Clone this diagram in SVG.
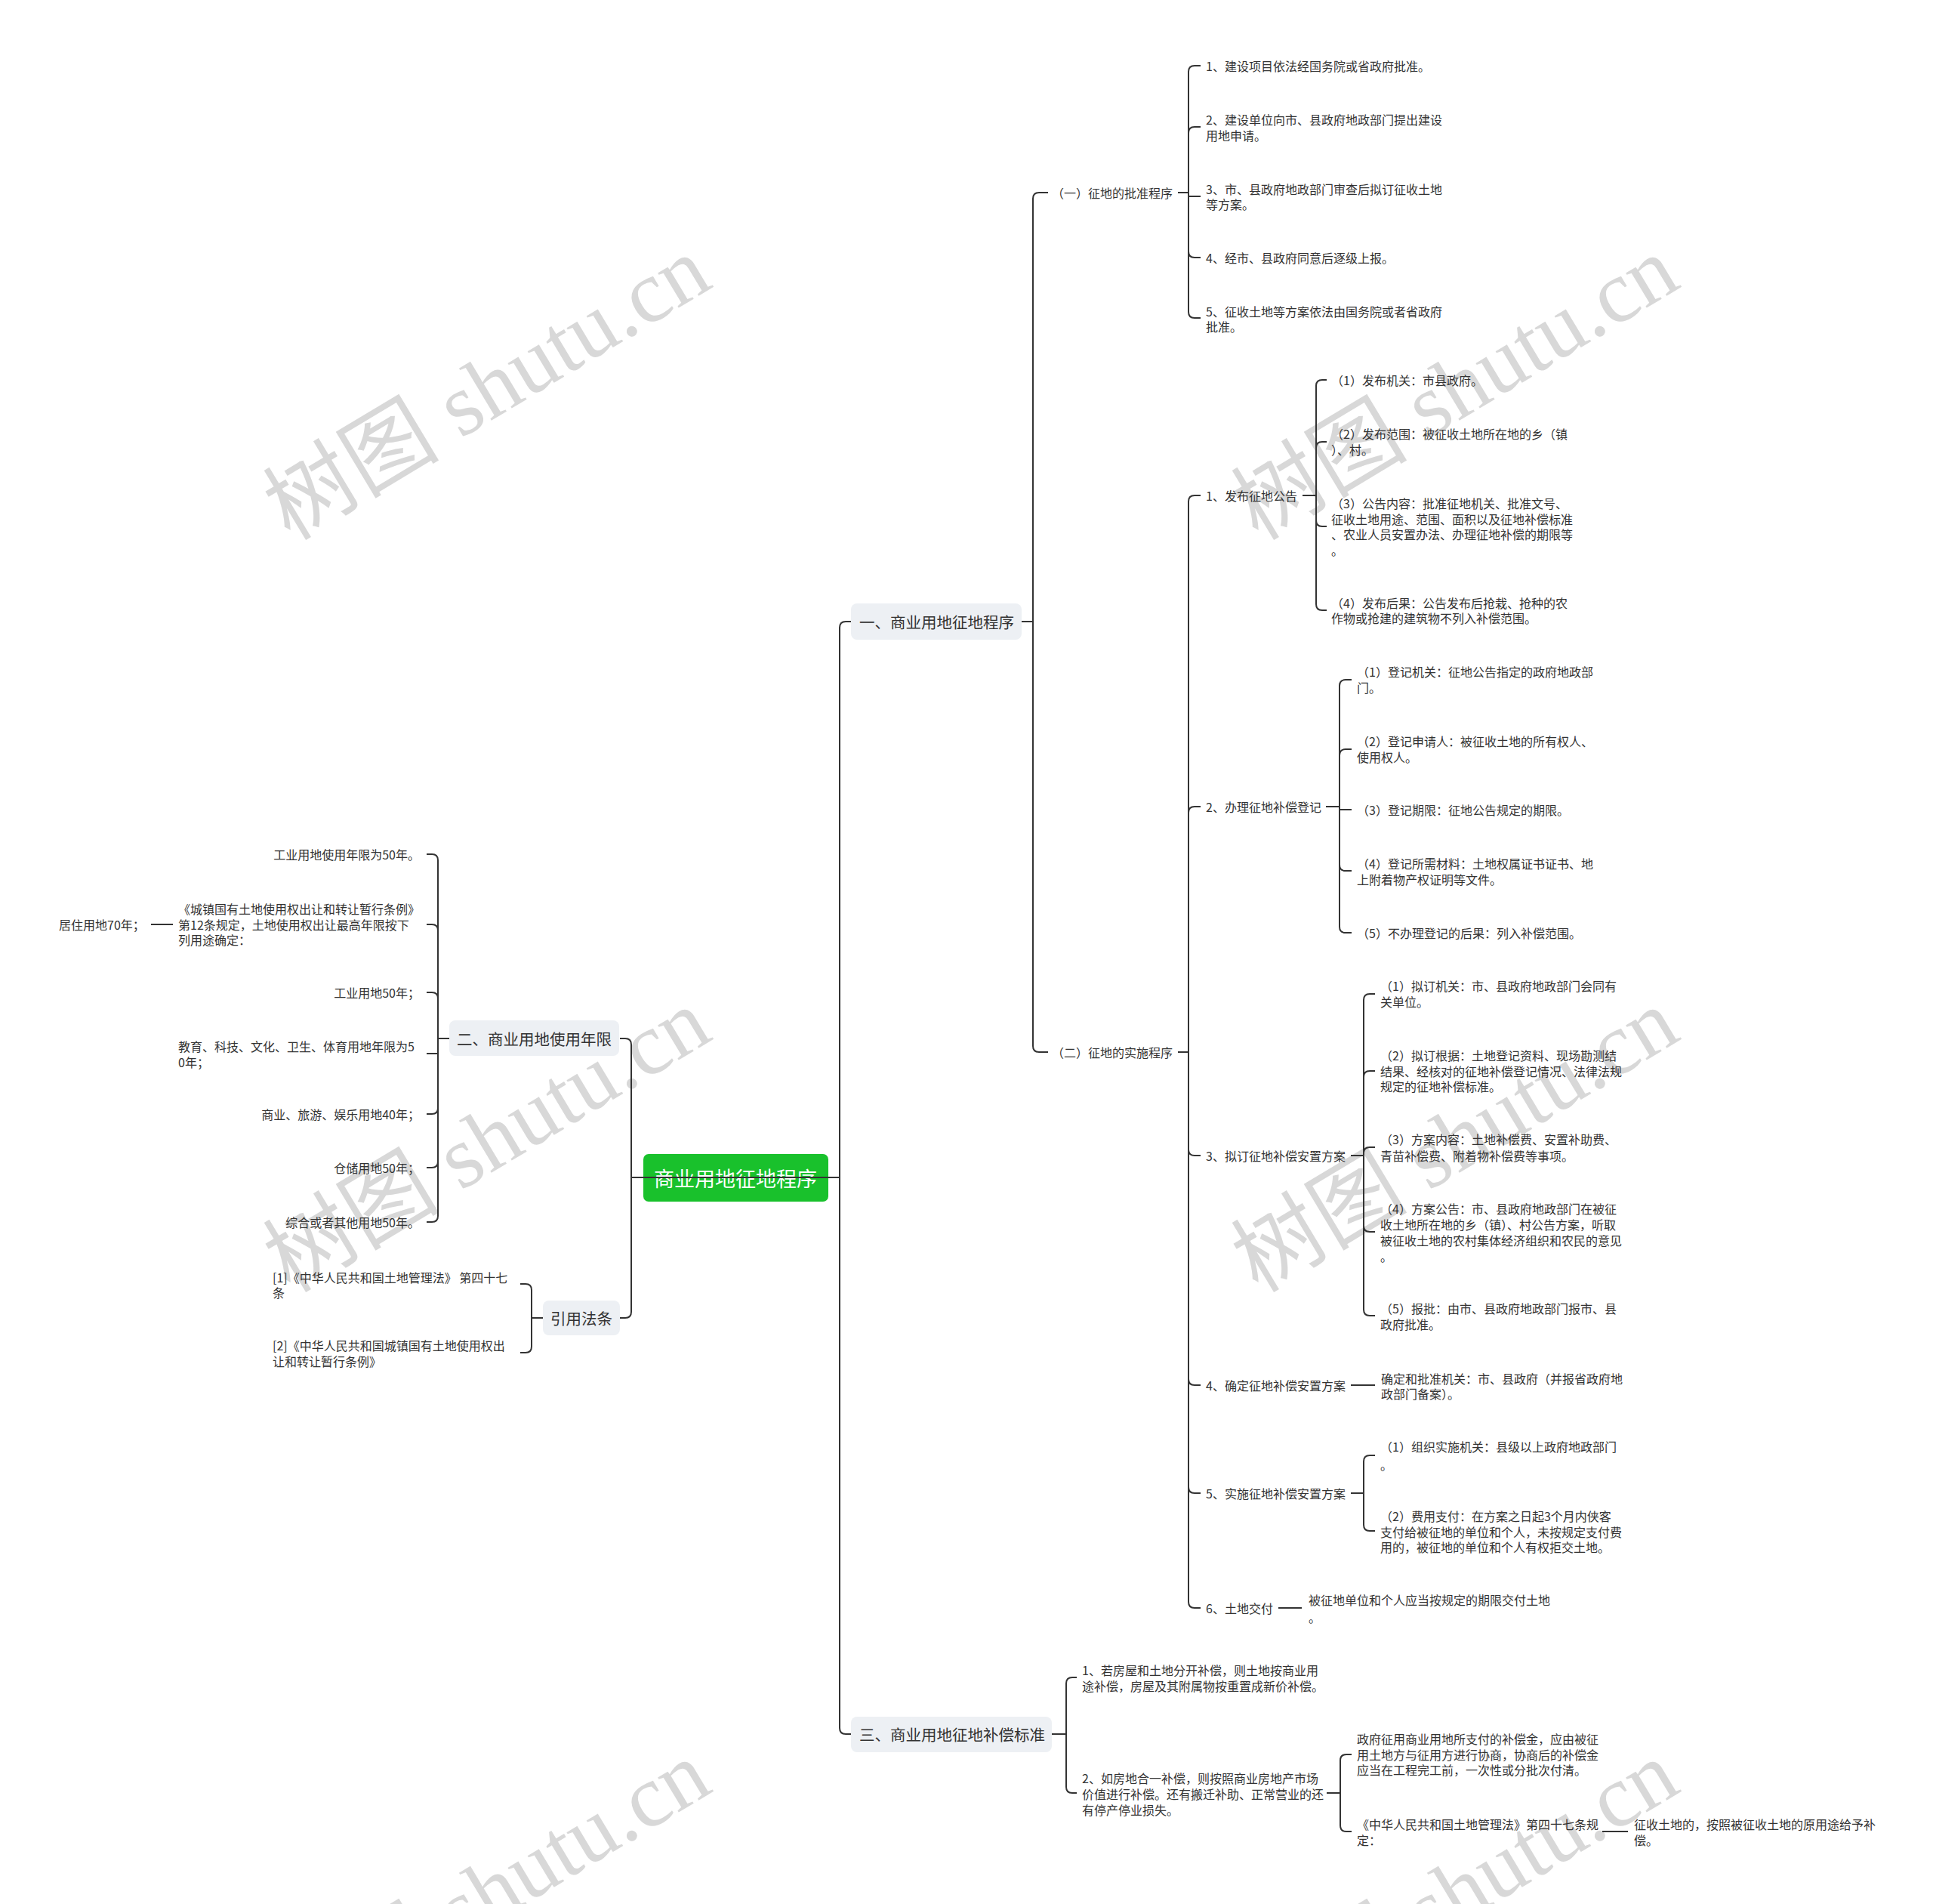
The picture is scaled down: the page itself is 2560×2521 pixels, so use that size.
<svg xmlns="http://www.w3.org/2000/svg" width="2560" height="2521" viewBox="0 0 2560 2521">
<style>
.t{font-family:"Noto Sans CJK SC","Noto Sans",sans-serif;font-size:16px;fill:#333;dominant-baseline:central}
.r{text-anchor:end}
.l1{font-size:20.5px}
.rt{font-size:27px;fill:#fff;text-anchor:middle}
.box{fill:#edf0f4}
.c{fill:none;stroke:#333;stroke-width:2}
.wm{font-family:"Liberation Serif","Noto Sans CJK SC",serif;font-size:117px;fill:#d8d8d8;text-anchor:middle;dominant-baseline:central}
</style>
<rect width="2560" height="2521" fill="#fff"/>
<g id="watermarks">
<text class="wm" transform="translate(645 514) rotate(-31)">树图 shutu.cn</text>
<text class="wm" transform="translate(1927 514) rotate(-31)">树图 shutu.cn</text>
<text class="wm" transform="translate(645 1510) rotate(-31)">树图 shutu.cn</text>
<text class="wm" transform="translate(1927 1510) rotate(-31)">树图 shutu.cn</text>
<text class="wm" transform="translate(645 2506) rotate(-31)">树图 shutu.cn</text>
<text class="wm" transform="translate(1927 2506) rotate(-31)">树图 shutu.cn</text>
</g>
<g id="nodes">
<g id="root"><rect x="852" y="1528" width="245" height="63" rx="7" fill="#19c12c"/><text class="t rt" x="974" y="1559">商业用地征地程序</text></g>
<g id="n-yi"><rect class="box" x="1127" y="799" width="226" height="48" rx="8"/><text class="t l1" x="1138" y="823">一、商业用地征地程序</text></g>
<g id="n-san"><rect class="box" x="1127" y="2273" width="266" height="47" rx="8"/><text class="t l1" x="1138" y="2296">三、商业用地征地补偿标准</text></g>
<g id="n-er"><rect class="box" x="595" y="1351" width="225" height="47" rx="8"/><text class="t l1" x="605" y="1375">二、商业用地使用年限</text></g>
<g id="n-fatiao"><rect class="box" x="719" y="1722" width="102" height="46" rx="8"/><text class="t l1" x="729" y="1745">引用法条</text></g>

<g id="n-a1"><text class="t" x="1393" y="255">（一）征地的批准程序</text></g>
<g id="n-a2"><text class="t" x="1393" y="1393">（二）征地的实施程序</text></g>

<g id="n-c1"><text class="t" x="1597" y="87">1、建设项目依法经国务院或省政府批准。</text></g>
<g id="n-c2"><text class="t" x="1597" y="158">2、建设单位向市、县政府地政部门提出建设<tspan x="1597" y="179">用地申请。</tspan></text></g>
<g id="n-c3"><text class="t" x="1597" y="250">3、市、县政府地政部门审查后拟订征收土地<tspan x="1597" y="270">等方案。</tspan></text></g>
<g id="n-c4"><text class="t" x="1597" y="341">4、经市、县政府同意后逐级上报。</text></g>
<g id="n-c5"><text class="t" x="1597" y="412">5、征收土地等方案依法由国务院或者省政府<tspan x="1597" y="432">批准。</tspan></text></g>

<g id="n-d1"><text class="t" x="1597" y="656">1、发布征地公告</text></g>
<g id="n-d2"><text class="t" x="1597" y="1068">2、办理征地补偿登记</text></g>
<g id="n-d3"><text class="t" x="1597" y="1530">3、拟订征地补偿安置方案</text></g>
<g id="n-d4"><text class="t" x="1597" y="1834">4、确定征地补偿安置方案</text></g>
<g id="n-d5"><text class="t" x="1597" y="1977">5、实施征地补偿安置方案</text></g>
<g id="n-d6"><text class="t" x="1597" y="2129">6、土地交付</text></g>

<g id="n-e1"><text class="t" x="1763" y="503">（1）发布机关：市县政府。</text></g>
<g id="n-e2"><text class="t" x="1763" y="574">（2）发布范围：被征收土地所在地的乡（镇<tspan x="1763" y="595">）、村。</tspan></text></g>
<g id="n-e3"><text class="t" x="1763" y="666">（3）公告内容：批准征地机关、批准文号、<tspan x="1763" y="687">征收土地用途、范围、面积以及征地补偿标准</tspan><tspan x="1763" y="707">、农业人员安置办法、办理征地补偿的期限等</tspan><tspan x="1763" y="728">。</tspan></text></g>
<g id="n-e4"><text class="t" x="1763" y="798">（4）发布后果：公告发布后抢栽、抢种的农<tspan x="1763" y="818">作物或抢建的建筑物不列入补偿范围。</tspan></text></g>

<g id="n-f1"><text class="t" x="1797" y="889">（1）登记机关：征地公告指定的政府地政部<tspan x="1797" y="910">门。</tspan></text></g>
<g id="n-f2"><text class="t" x="1797" y="981">（2）登记申请人：被征收土地的所有权人、<tspan x="1797" y="1002">使用权人。</tspan></text></g>
<g id="n-f3"><text class="t" x="1797" y="1072">（3）登记期限：征地公告规定的期限。</text></g>
<g id="n-f4"><text class="t" x="1797" y="1143">（4）登记所需材料：土地权属证书证书、地<tspan x="1797" y="1164">上附着物产权证明等文件。</tspan></text></g>
<g id="n-f5"><text class="t" x="1797" y="1235">（5）不办理登记的后果：列入补偿范围。</text></g>

<g id="n-g1"><text class="t" x="1828" y="1305">（1）拟订机关：市、县政府地政部门会同有<tspan x="1828" y="1326">关单位。</tspan></text></g>
<g id="n-g2"><text class="t" x="1828" y="1397">（2）拟订根据：土地登记资料、现场勘测结<tspan x="1828" y="1418">结果、经核对的征地补偿登记情况、法律法规</tspan><tspan x="1828" y="1438">规定的征地补偿标准。</tspan></text></g>
<g id="n-g3"><text class="t" x="1828" y="1508">（3）方案内容：土地补偿费、安置补助费、<tspan x="1828" y="1530">青苗补偿费、附着物补偿费等事项。</tspan></text></g>
<g id="n-g4"><text class="t" x="1828" y="1600">（4）方案公告：市、县政府地政部门在被征<tspan x="1828" y="1621">收土地所在地的乡（镇）、村公告方案，听取</tspan><tspan x="1828" y="1642">被征收土地的农村集体经济组织和农民的意见</tspan><tspan x="1828" y="1663">。</tspan></text></g>
<g id="n-g5"><text class="t" x="1828" y="1732">（5）报批：由市、县政府地政部门报市、县<tspan x="1828" y="1753">政府批准。</tspan></text></g>

<g id="n-h1"><text class="t" x="1829" y="1825">确定和批准机关：市、县政府（并报省政府地<tspan x="1829" y="1845">政部门备案）。</tspan></text></g>

<g id="n-i1"><text class="t" x="1828" y="1915">（1）组织实施机关：县级以上政府地政部门<tspan x="1828" y="1939">。</tspan></text></g>
<g id="n-i2"><text class="t" x="1828" y="2007">（2）费用支付：在方案之日起3个月内侠客<tspan x="1828" y="2028">支付给被征地的单位和个人，未按规定支付费</tspan><tspan x="1828" y="2048">用的，被征地的单位和个人有权拒交土地。</tspan></text></g>

<g id="n-j1"><text class="t" x="1733" y="2118">被征地单位和个人应当按规定的期限交付土地<tspan x="1733" y="2141">。</tspan></text></g>

<g id="n-k1"><text class="t" x="1433" y="2211">1、若房屋和土地分开补偿，则土地按商业用<tspan x="1433" y="2232">途补偿，房屋及其附属物按重置成新价补偿。</tspan></text></g>
<g id="n-k2"><text class="t" x="1433" y="2354">2、如房地合一补偿，则按照商业房地产市场<tspan x="1433" y="2375">价值进行补偿。还有搬迁补助、正常营业的还</tspan><tspan x="1433" y="2396">有停产停业损失。</tspan></text></g>
<g id="n-l1"><text class="t" x="1797" y="2302">政府征用商业用地所支付的补偿金，应由被征<tspan x="1797" y="2323">用土地方与征用方进行协商，协商后的补偿金</tspan><tspan x="1797" y="2343">应当在工程完工前，一次性或分批次付清。</tspan></text></g>
<g id="n-l2"><text class="t" x="1797" y="2415">《中华人民共和国土地管理法》第四十七条规<tspan x="1797" y="2436">定：</tspan></text></g>
<g id="n-m1"><text class="t" x="2164" y="2415">征收土地的，按照被征收土地的原用途给予补<tspan x="2164" y="2436">偿。</tspan></text></g>

<g id="n-n1"><text class="t r" x="556" y="1131">工业用地使用年限为50年。</text></g>
<g id="n-n2"><text class="t" x="236" y="1203">《城镇国有土地使用权出让和转让暂行条例》<tspan x="236" y="1224">第12条规定，土地使用权出让最高年限按下</tspan><tspan x="236" y="1244">列用途确定：</tspan></text></g>
<g id="n-n2a"><text class="t" x="78" y="1224">居住用地70年；</text></g>
<g id="n-n3"><text class="t r" x="556" y="1314">工业用地50年；</text></g>
<g id="n-n4"><text class="t" x="236" y="1385">教育、科技、文化、卫生、体育用地年限为5<tspan x="236" y="1406">0年；</tspan></text></g>
<g id="n-n5"><text class="t r" x="556" y="1475">商业、旅游、娱乐用地40年；</text></g>
<g id="n-n6"><text class="t r" x="556" y="1546">仓储用地50年；</text></g>
<g id="n-n7"><text class="t r" x="556" y="1618">综合或者其他用地50年。</text></g>

<g id="n-o1"><text class="t" x="361" y="1691">[1]《中华人民共和国土地管理法》 第四十七<tspan x="361" y="1711">条</tspan></text></g>
<g id="n-o2"><text class="t" x="361" y="1781">[2]《中华人民共和国城镇国有土地使用权出<tspan x="361" y="1802">让和转让暂行条例》</tspan></text></g>
</g>
<g id="connectors" class="c">
<path d="M836 1559 H1112"/>
<path d="M1112 1559 V831 Q1112 823 1120 823 H1127 M1112 1559 V2288 Q1112 2296 1120 2296 H1127"/>
<path d="M836 1559 V1383 Q836 1375 828 1375 H821 M836 1559 V1737 Q836 1745 828 1745 H821"/>

<path d="M1353 823 H1368 M1368 823 V263 Q1368 255 1376 255 H1388 M1368 823 V1385 Q1368 1393 1376 1393 H1388"/>

<path d="M1560 255 H1574 M1574 255 V95 Q1574 87 1582 87 H1590 M1574 255 V176 Q1574 168 1582 168 H1590 M1574 260 H1590 M1574 255 V333 Q1574 341 1582 341 H1590 M1574 255 V413 Q1574 421 1582 421 H1590"/>

<path d="M1560 1393 H1574 M1574 1393 V664 Q1574 656 1582 656 H1590 M1574 1393 V1076 Q1574 1068 1582 1068 H1590 M1574 1393 V1522 Q1574 1530 1582 1530 H1590 M1574 1393 V1826 Q1574 1834 1582 1834 H1590 M1574 1393 V1969 Q1574 1977 1582 1977 H1590 M1574 1393 V2121 Q1574 2129 1582 2129 H1590"/>

<path d="M1725 656 H1743 M1743 656 V511 Q1743 503 1751 503 H1757 M1743 656 V593 Q1743 585 1751 585 H1757 M1743 656 V689 Q1743 697 1751 697 H1757 M1743 656 V800 Q1743 808 1751 808 H1757"/>

<path d="M1756 1068 H1774 M1774 1068 V908 Q1774 900 1782 900 H1790 M1774 1068 V1000 Q1774 992 1782 992 H1790 M1774 1072 H1790 M1774 1068 V1145 Q1774 1153 1782 1153 H1790 M1774 1068 V1227 Q1774 1235 1782 1235 H1790"/>

<path d="M1789 1530 H1806 M1806 1530 V1324 Q1806 1316 1814 1316 H1821 M1806 1530 V1426 Q1806 1418 1814 1418 H1821 M1806 1530 V1527 Q1806 1519 1814 1519 H1821 M1806 1530 V1623 Q1806 1631 1814 1631 H1821 M1806 1530 V1734 Q1806 1742 1814 1742 H1821"/>

<path d="M1789 1834 H1821"/>

<path d="M1789 1977 H1806 M1806 1977 V1935 Q1806 1927 1814 1927 H1821 M1806 1977 V2019 Q1806 2027 1814 2027 H1821"/>

<path d="M1693 2129 H1724"/>

<path d="M1393 2296 H1412 M1412 2296 V2229 Q1412 2221 1420 2221 H1426 M1412 2296 V2366 Q1412 2374 1420 2374 H1426"/>

<path d="M1757 2374 H1775 M1775 2374 V2331 Q1775 2323 1783 2323 H1790 M1775 2374 V2417 Q1775 2425 1783 2425 H1790"/>

<path d="M2122 2425 H2156"/>

<path d="M595 1375 H580 M580 1375 V1139 Q580 1131 572 1131 H565 M580 1375 V1232 Q580 1224 572 1224 H565 M580 1375 V1322 Q580 1314 572 1314 H565 M580 1395 H565 M580 1375 V1467 Q580 1475 572 1475 H565 M580 1375 V1538 Q580 1546 572 1546 H565 M580 1375 V1610 Q580 1618 572 1618 H565"/>

<path d="M229 1224 H200"/>

<path d="M719 1745 H704 M704 1745 V1708 Q704 1700 696 1700 H689 M704 1745 V1783 Q704 1791 696 1791 H689"/>
</g>
</svg>
